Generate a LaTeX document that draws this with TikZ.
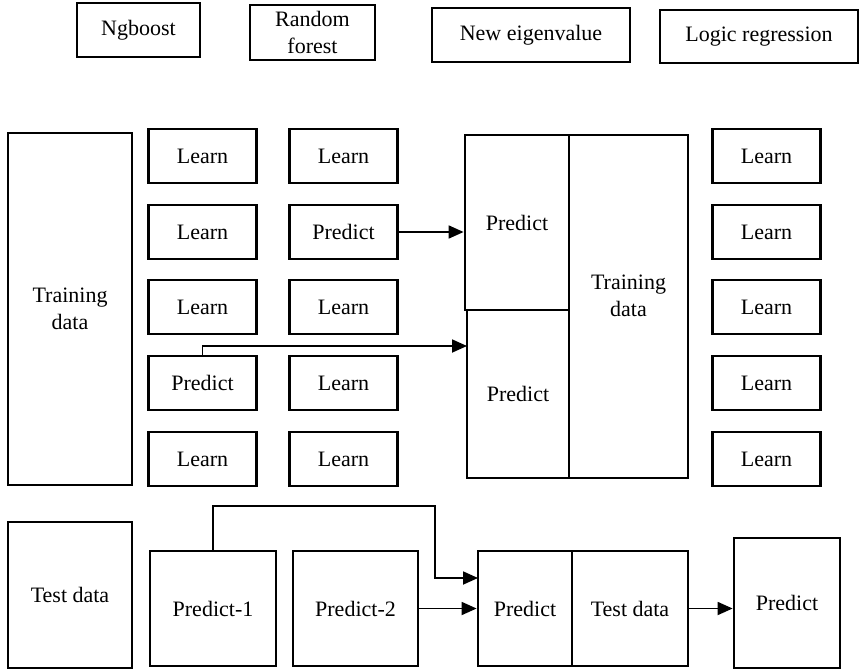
\documentclass[tikz,border=0pt]{standalone}
\usepackage{fontspec}
\setmainfont{Liberation Serif}
\usetikzlibrary{arrows.meta,positioning}

\begin{document}
\begin{tikzpicture}[
                                x = 1pt,
                                y = 1pt,
                                >= {Triangle[length=15pt,width=13pt]},
                                font = \fontsize{22}{27}\selectfont
                                ]

                                \tikzstyle{block}=[
                                        draw = black,
                                        rectangle,
                                        line width = 2.8pt,
                                        fill = white,
                                        inner sep = 0pt,
                                        align = center
                                ]
                                \tikzstyle{cell}=[
                                        block,
                                        minimum width = 108pt,
                                        minimum height = 54pt
                                ]
                                \tikzstyle{link}=[
                                        ->,
                                        line width = 1.8pt
                                ]

                                \useasboundingbox (0,0) rectangle (861,-671);

                                % models
                                \node[block, minimum width=123pt, minimum height=54pt] (ngb) at (138.5,-30) {Ngboost};
                                \node[block, minimum width=125pt, minimum height=55pt] (rf) at (312.5,-32.5) {Random\\forest};
                                \node[block, minimum width=198pt, minimum height=54pt] (eig) at (531,-35) {New eigenvalue};
                                \node[block, minimum width=198pt, minimum height=53pt] (lr) at (759,-36.5) {Logic regression};

                                % training folds
                                \node[block, minimum width=124pt, minimum height=352pt] (train) at (70,-309) {Training\\data};

                                \node[cell] (a1) at (202.5,-156) {Learn};
                                \node[cell] (a2) [below of=a1, node distance=76pt] {Learn};
                                \node[cell] (a3) [below of=a2, node distance=75pt] {Learn};
                                \node[cell] (a4) [below of=a3, node distance=76pt] {Predict};
                                \node[cell] (a5) [below of=a4, node distance=76pt] {Learn};

                                \node[cell] (b1) [right of=a1, node distance=141pt] {Learn};
                                \node[cell] (b2) [right of=a2, node distance=141pt] {Predict};
                                \node[cell] (b3) [right of=a3, node distance=141pt] {Learn};
                                \node[cell] (b4) [right of=a4, node distance=141pt] {Learn};
                                \node[cell] (b5) [right of=a5, node distance=141pt] {Learn};

                                \node[cell] (c1) [right of=a1, node distance=564pt] {Learn};
                                \node[cell] (c2) [right of=a2, node distance=564pt] {Learn};
                                \node[cell] (c3) [right of=a3, node distance=564pt] {Learn};
                                \node[cell] (c4) [right of=a4, node distance=564pt] {Learn};
                                \node[cell] (c5) [right of=a5, node distance=564pt] {Learn};

                                % stacked predictions
                                \node[block, minimum width=104pt, minimum height=175pt] (up) at (517,-222.5) {Predict};
                                \node[block, minimum width=102pt, minimum height=168pt] (lo) at (518,-394) {Predict};
                                \node[block, minimum width=119pt, minimum height=343pt, text depth=22pt] (newtrain) at (628.5,-306.5) {Training\\data};

                                % test part
                                \node[block, minimum width=124pt, minimum height=146pt] (test) at (70,-595) {Test data};
                                \node[block, minimum width=126pt, minimum height=115pt] (p1) at (213,-608.5) {Predict-1};
                                \node[block, minimum width=125pt, minimum height=115pt] (p2) at (355.5,-608.5) {Predict-2};
                                \node[block, minimum width=94pt, minimum height=115pt] (pm) at (525,-608.5) {Predict};
                                \node[block, minimum width=116pt, minimum height=115pt] (newtest) at (630,-608.5) {Test data};
                                \node[block, minimum width=106pt, minimum height=130pt] (final) at (787,-603) {Predict};

                                \coordinate (in2) at (467,-346);
                                \coordinate (bend) at (435,-506);
                                \coordinate (in3) at (478,-578);

                                \draw[link] (b2.east) -- (b2.east -| up.west);
                                \draw[link] (a4.north) |- (in2);
                                \draw[link] (p1.north) |- (bend) |- (in3);
                                \draw[link] (p2.east) -- (p2.east -| pm.west);
                                \draw[link] (newtest.east) -- (newtest.east -| final.west);
                       \end{tikzpicture}
\end{document}
